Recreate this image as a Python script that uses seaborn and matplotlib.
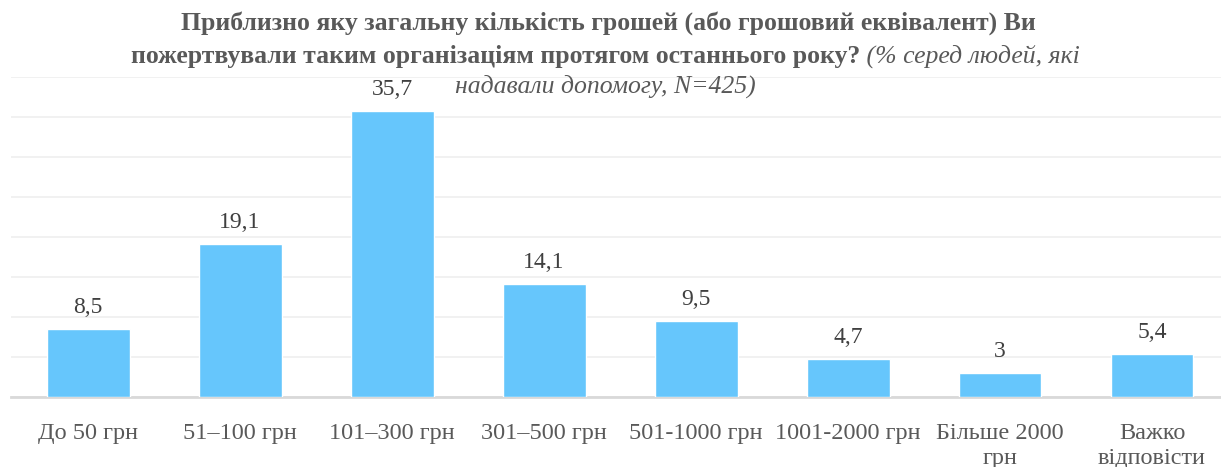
import matplotlib
matplotlib.use("Agg")
import matplotlib.pyplot as plt
import seaborn as sns
import pandas as pd

# дані
categories = ["До 50 грн", "51–100 грн", "101–300 грн", "301–500 грн",
              "501-1000 грн", "1001-2000 грн", "Більше 2000\nгрн", "Важко\nвідповісти"]
values = [8.5, 19.1, 35.7, 14.1, 9.5, 4.7, 3.0, 5.4]
value_labels = ["8,5", "19,1", "35,7", "14,1", "9,5", "4,7", "3", "5,4"]

title_line1 = "Приблизно яку загальну кількість грошей (або грошовий еквівалент) Ви"
title_line2_bold = "пожертвували таким організаціям протягом останнього року?"
title_line2_italic = " (% серед людей, які"
title_line3 = "надавали допомогу, N=425)"

sns.set_style("white")
plt.rcParams["font.family"] = ["Liberation Serif", "DejaVu Serif"]

fig = plt.figure(figsize=(12.21, 4.67), dpi=100)
ax = fig.add_axes([11 / 1221, 1 - 397 / 467, 1 - 11 / 1221, (397 - 77) / 467])

df = pd.DataFrame({"cat": categories, "val": values})
sns.barplot(data=df, x="cat", y="val", color="#66C6FC", saturation=1,
            width=0.546, ax=ax, zorder=3)

ax.set_xlim(-0.507, 7.454)
ax.set_ylim(0, 40)
ax.set_yticks(range(0, 41, 5))
ax.yaxis.grid(True, color="#EFEFEF", linewidth=1.2, zorder=0)
ax.set_axisbelow(True)
ax.tick_params(axis="y", left=False, labelleft=False)
ax.tick_params(axis="x", bottom=False, pad=15, labelsize=17.5, labelcolor="#595959")
for lbl in ax.get_xticklabels():
    lbl.set_linespacing(1.3)
ax.set_xlabel("")
ax.set_ylabel("")
for s in ["top", "right", "left"]:
    ax.spines[s].set_visible(False)
ax.spines["bottom"].set_color("#D9D9D9")
ax.spines["bottom"].set_linewidth(2)

for i, (v, lab) in enumerate(zip(values, value_labels)):
    ax.annotate(lab, (i, v), xytext=(0, 8), textcoords="offset points",
                ha="center", va="bottom", fontsize=17, color="#404040")

# заголовок
title_color = "#595959"
fs_title = 18.5
fig.text(0.498, 1 - 23 / 467, title_line1, ha="center", va="center",
         fontsize=fs_title, fontweight="bold", color=title_color)

renderer = fig.canvas.get_renderer()
t_bold = fig.text(0, 1 - 56 / 467, title_line2_bold, ha="left", va="center",
                  fontsize=fs_title, fontweight="bold", color=title_color)
t_ital = fig.text(0, 1 - 56 / 467, title_line2_italic, ha="left", va="center",
                  fontsize=fs_title, fontstyle="italic", color=title_color)
wb = t_bold.get_window_extent(renderer).width / fig.bbox.width
wi = t_ital.get_window_extent(renderer).width / fig.bbox.width
x0 = 0.496 - (wb + wi) / 2
t_bold.set_x(x0)
t_ital.set_x(x0 + wb)

fig.text(0.496, 1 - 86 / 467, title_line3, ha="center", va="center",
         fontsize=fs_title, fontstyle="italic", color=title_color)

fig.savefig("out.png", dpi=100)
